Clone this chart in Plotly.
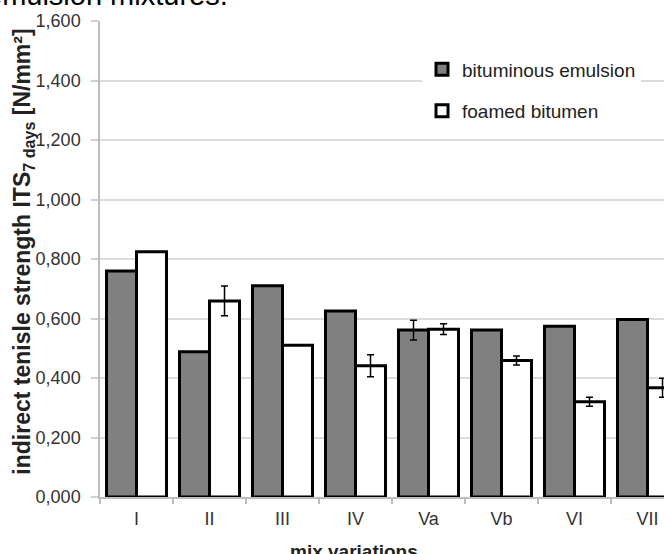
import plotly.graph_objects as go

categories = ["I", "II", "III", "IV", "Va", "Vb", "VI", "VII"]
emulsion = [0.760, 0.488, 0.710, 0.625, 0.561, 0.561, 0.574, 0.597]
emulsion_err = [0, 0, 0, 0, 0.033, 0, 0, 0]
foamed = [0.824, 0.659, 0.510, 0.441, 0.564, 0.459, 0.320, 0.367]
foamed_err = [0, 0.050, 0, 0.037, 0.018, 0.015, 0.015, 0.032]
y_ticks = [0.0, 0.2, 0.4, 0.6, 0.8, 1.0, 1.2, 1.4, 1.6]

FONT = "Liberation Sans, Arial, sans-serif"

W, H = 664, 554
L, R, T, B = 100, 0, 20.7, 57
PW, PH = W - L - R, H - T - B

def px_x(p):
    return (p - L) / PW

def px_y(p):
    return (H - B - p) / PH

fig = go.Figure()
fig.add_trace(go.Bar(
    name="bituminous emulsion", x=categories, y=emulsion,
    marker=dict(color="#808080", line=dict(color="black", width=3)),
    error_y=dict(type="data", array=emulsion_err, color="black", thickness=1.5, width=3.5),
    legendgroup="a",
))
fig.add_trace(go.Bar(
    name="foamed bitumen", x=categories, y=foamed,
    marker=dict(color="white", line=dict(color="black", width=3)),
    error_y=dict(type="data", array=foamed_err, color="black", thickness=1.5, width=3.5),
    legendgroup="b",
))

fig.update_layout(
    width=W, height=H,
    margin=dict(l=L, r=R, t=T, b=B, pad=0),
    paper_bgcolor="white", plot_bgcolor="white",
    separators=", ",
    barmode="group", bargap=0.178, bargroupgap=0,
    font=dict(family=FONT, color="#262626"),
    showlegend=True,
    legend=dict(
        x=px_x(422), y=px_y(50), xanchor="left", yanchor="top",
        bgcolor="white", borderwidth=0,
        font=dict(family=FONT, size=19, color="#222222"),
        traceorder="grouped", tracegroupgap=14,
    ),
    xaxis=dict(
        type="category", range=[-0.5, 7.226],
        showline=True, linecolor="#bdbdbd", linewidth=1.5,
        ticks="outside", tickson="boundaries", ticklen=5, tickcolor="#bdbdbd", tickwidth=1.5,
        tickfont=dict(family=FONT, size=18, color="#333333"),
        ticklabelstandoff=5,
        showgrid=False, zeroline=False, automargin=False,
        layer="below traces",
    ),
    yaxis=dict(
        range=[0, 1.6], tickvals=y_ticks, tickformat=".3f",
        showline=True, linecolor="#bdbdbd", linewidth=1.5,
        ticks="outside", ticklen=7, tickcolor="#d0d0d0", tickwidth=1.5,
        tickfont=dict(family=FONT, size=18, color="#333333"),
        ticklabelstandoff=7,
        showgrid=True, gridcolor="#dcdcdc", gridwidth=1.5,
        zeroline=False, automargin=False,
        layer="below traces",
    ),
    annotations=[
        dict(text="emulsion mixtures.", xref="paper", yref="paper",
             x=px_x(230), y=px_y(13), xanchor="right", yanchor="bottom",
             showarrow=False, font=dict(family=FONT, size=29, color="black")),
        dict(text="<b>mix variations</b>", xref="paper", yref="paper",
             x=px_x(353.5), y=px_y(539), xanchor="center", yanchor="top",
             showarrow=False, font=dict(family=FONT, size=19, color="#222222")),
        dict(text="<b>indirect tenisle strength ITS<sub>7 days</sub> [N/mm²]</b>",
             xref="paper", yref="paper", textangle=-90,
             x=px_x(23.5), y=px_y(252), xanchor="center", yanchor="middle",
             showarrow=False, font=dict(family=FONT, size=23, color="#222222")),
    ],
)

fig.write_html(
    "out.html",
    config={"displayModeBar": False},
    post_script="document.body.style.margin='0';document.body.style.padding='0';document.body.style.overflow='hidden';",
)
